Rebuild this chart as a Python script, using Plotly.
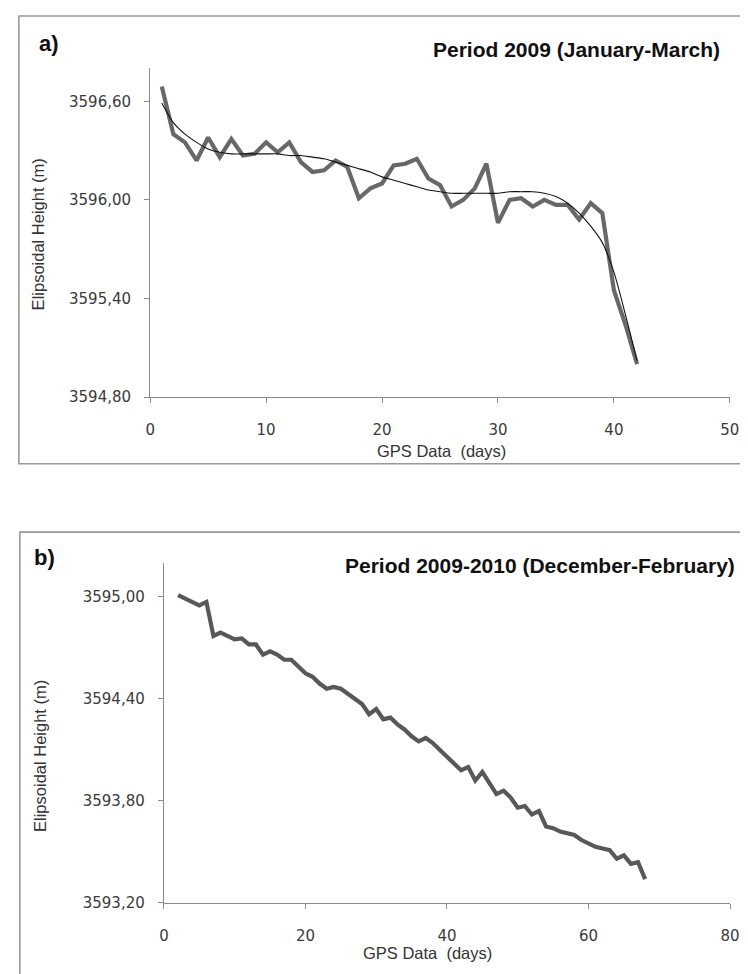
import plotly.graph_objects as go

W, H = 748, 974

# ---------------- data ----------------
days_a = list(range(1, 43))
height_a = [3596.69, 3596.40, 3596.35, 3596.24, 3596.38, 3596.26, 3596.37, 3596.27,
            3596.28, 3596.35, 3596.29, 3596.35, 3596.23, 3596.17, 3596.18, 3596.24,
            3596.20, 3596.01, 3596.07, 3596.10, 3596.21, 3596.22, 3596.25, 3596.13,
            3596.09, 3595.96, 3596.00, 3596.07, 3596.22, 3595.86, 3596.00, 3596.01,
            3595.96, 3596.00, 3595.97, 3595.97, 3595.88, 3595.98, 3595.92, 3595.45,
            3595.24, 3595.00]
trend_a = [3596.59, 3596.47, 3596.40, 3596.35, 3596.31, 3596.29, 3596.28, 3596.28,
           3596.28, 3596.28, 3596.28, 3596.27, 3596.27, 3596.26, 3596.25, 3596.23,
           3596.21, 3596.19, 3596.17, 3596.14, 3596.12, 3596.10, 3596.08, 3596.06,
           3596.05, 3596.04, 3596.04, 3596.04, 3596.04, 3596.04, 3596.05, 3596.05,
           3596.05, 3596.04, 3596.02, 3595.98, 3595.92, 3595.84, 3595.74, 3595.56,
           3595.30, 3595.02]

days_b = list(range(2, 69))
height_b = [3595.01, 3594.99, 3594.975, 3594.95, 3594.97, 3594.77, 3594.79, 3594.77,
            3594.75, 3594.755, 3594.72, 3594.72, 3594.66, 3594.68, 3594.66, 3594.63,
            3594.63, 3594.59, 3594.55, 3594.53, 3594.49, 3594.46, 3594.47, 3594.46,
            3594.43, 3594.40, 3594.37, 3594.31, 3594.34, 3594.28, 3594.29, 3594.25,
            3594.22, 3594.18, 3594.15, 3594.17, 3594.14, 3594.10, 3594.06, 3594.02,
            3593.98, 3594.00, 3593.92, 3593.97, 3593.91, 3593.84, 3593.86, 3593.82,
            3593.76, 3593.77, 3593.72, 3593.74, 3593.65, 3593.64, 3593.62, 3593.61,
            3593.60, 3593.57, 3593.55, 3593.53, 3593.52, 3593.51, 3593.46, 3593.48,
            3593.43, 3593.44, 3593.34]

yticks_a = [3594.8, 3595.4, 3596.0, 3596.6]
yticklabels_a = ["3594,80", "3595,40", "3596,00", "3596,60"]
xticks_a = [0, 10, 20, 30, 40, 50]

yticks_b = [3593.2, 3593.8, 3594.4, 3595.0]
yticklabels_b = ["3593,20", "3593,80", "3594,40", "3595,00"]
xticks_b = [0, 20, 40, 60, 80]

title_a = "Period 2009 (January-March)"
title_b = "Period 2009-2010 (December-February)"
xtitle = "GPS Data  (days)"
ytitle = "Elipsoidal Height (m)"

# ---------------- layout helpers ----------------
def fx(px):
    return px / W

def fy(py):
    return 1 - py / H

AXIS_COLOR = "#8a8a8a"
TICK_FONT = dict(family="DejaVu Sans", size=15, color="#3a3a3a")

fig = go.Figure()

fig.add_trace(go.Scatter(x=days_a, y=height_a, mode="lines",
                         line=dict(color="#686868", width=4.2),
                         xaxis="x", yaxis="y", showlegend=False))
fig.add_trace(go.Scatter(x=days_a, y=trend_a, mode="lines",
                         line=dict(color="#111111", width=1.1, shape="spline", smoothing=0.8),
                         xaxis="x", yaxis="y", showlegend=False))
fig.add_trace(go.Scatter(x=days_b, y=height_b, mode="lines",
                         line=dict(color="#585858", width=4.2),
                         xaxis="x2", yaxis="y2", showlegend=False))

def xaxis(domain, rng, ticks, anchor):
    return dict(domain=domain, range=rng, tickvals=ticks, ticktext=[str(t) for t in ticks],
                showline=True, linecolor=AXIS_COLOR, linewidth=1.3, ticks="outside",
                ticklen=5, tickcolor=AXIS_COLOR, tickwidth=1.3, showgrid=False,
                zeroline=False, tickfont=TICK_FONT, anchor=anchor, ticklabelstandoff=14,
                fixedrange=True)

def yaxis(domain, rng, ticks, labels, anchor):
    return dict(domain=domain, range=rng, tickvals=ticks, ticktext=labels,
                showline=True, linecolor=AXIS_COLOR, linewidth=1.3, ticks="outside",
                ticklen=5, tickcolor=AXIS_COLOR, tickwidth=1.3, showgrid=False,
                zeroline=False, tickfont=TICK_FONT, anchor=anchor, ticklabelstandoff=10,
                fixedrange=True)

fig.update_layout(
    width=W, height=H,
    margin=dict(l=0, r=0, t=0, b=0),
    paper_bgcolor="white", plot_bgcolor="white",
    xaxis=xaxis([fx(140), fx(731.5)], [0, 50], xticks_a, "y"),
    yaxis=yaxis([fy(392.7), fy(61)], [3594.8, 3596.8], yticks_a, yticklabels_a, "x"),
    xaxis2=xaxis([fx(154), fx(731.7)], [0, 80], xticks_b, "y2"),
    yaxis2=yaxis([fy(903.3), fy(560)], [3593.2, 3595.2], yticks_b, yticklabels_b, "x2"),
    showlegend=False,
)

# panel borders
fig.add_shape(type="rect", xref="paper", yref="paper",
              x0=fx(6), x1=fx(760), y0=fy(460), y1=fy(8),
              line=dict(color="#9a9a9a", width=1.6), fillcolor="rgba(0,0,0,0)", layer="below")
fig.add_shape(type="rect", xref="paper", yref="paper",
              x0=fx(7), x1=fx(760), y0=fy(990), y1=fy(529),
              line=dict(color="#9a9a9a", width=1.6), fillcolor="rgba(0,0,0,0)", layer="below")

BOLD = dict(family="Liberation Sans, Arial", size=21, color="#111111")
LAB = dict(family="Liberation Sans, Arial", size=16.5, color="#333333")

def ann(text, px, py, font, xanchor="center", textangle=0, bold=False):
    fig.add_annotation(text=("<b>%s</b>" % text) if bold else text,
                       x=fx(px), y=fy(py), xref="paper", yref="paper",
                       xanchor=xanchor, yanchor="middle", showarrow=False,
                       font=font, textangle=textangle)

ann("a)", 24, 36, dict(BOLD, size=22), xanchor="left", bold=True)
ann("b)", 19, 555, dict(BOLD, size=22), xanchor="left", bold=True)
ann(title_a, 724, 42, BOLD, xanchor="right", bold=True)
ann(title_b, 739, 563, BOLD, xanchor="right", bold=True)
ann(xtitle, 437, 447, LAB)
ann(xtitle, 423, 954, LAB)
ann(ytitle, 25.5, 228.5, LAB, textangle=-90)
ann(ytitle, 27.5, 755, LAB, textangle=-90)

fig.write_html("out.html")
